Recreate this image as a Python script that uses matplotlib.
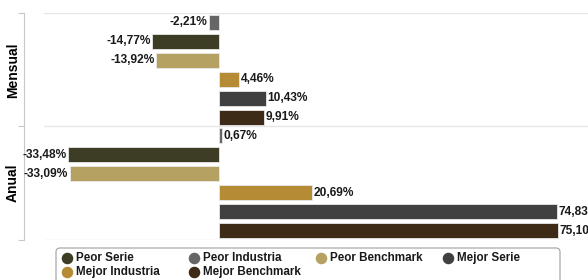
import matplotlib
matplotlib.use("Agg")
import matplotlib.pyplot as plt
from matplotlib.lines import Line2D
from matplotlib.patches import FancyBboxPatch

plt.rcParams['font.family'] = ['Liberation Sans', 'DejaVu Sans']

categories = ["Mensual", "Anual"]
# bar order within each group (top to bottom)
series = ["Peor Industria", "Peor Serie", "Peor Benchmark",
          "Mejor Industria", "Mejor Serie", "Mejor Benchmark"]
mensual = [-2.21, -14.77, -13.92, 4.46, 10.43, 9.91]
anual = [0.67, -33.48, -33.09, 20.69, 74.83, 75.10]
colors = {
    "Peor Serie": "#3d3d26",
    "Peor Industria": "#666666",
    "Peor Benchmark": "#b5a263",
    "Mejor Serie": "#404040",
    "Mejor Industria": "#b58b35",
    "Mejor Benchmark": "#3d2b17",
}
legend_rows = [["Peor Serie", "Peor Industria", "Peor Benchmark", "Mejor Serie"],
               ["Mejor Industria", "Mejor Benchmark"]]

W, H = 588, 280
fig = plt.figure(figsize=(W / 100, H / 100), dpi=100)
ax = fig.add_axes([44 / W, 40 / H, 544 / W, 227 / H])

n = len(series)
for gi, vals in enumerate([mensual, anual]):
    for si, (name, v) in enumerate(zip(series, vals)):
        y = gi * n + si + 0.5
        ax.barh(y, v, height=0.79, color=colors[name], edgecolor="#e8e8e8",
                linewidth=0.6, zorder=3)
        lab = f"{v:.2f}".replace(".", ",") + "%"
        if v < 0:
            ax.text(v - 0.35, y, lab, ha="right", va="center",
                    fontsize=8.6, fontweight="bold", color="#1a1a1a", zorder=4)
        else:
            ax.text(v + 0.35, y, lab, ha="left", va="center",
                    fontsize=8.6, fontweight="bold", color="#1a1a1a", zorder=4)

ax.set_xlim(-38.8, 81.8)
ax.set_ylim(2 * n, 0)

for y in [0, n, 2 * n]:
    ax.axhline(y, color="#e6e6e6", linewidth=1, zorder=1)

ax.set_xticks([])
for s in ["top", "right", "bottom"]:
    ax.spines[s].set_visible(False)
ax.spines["left"].set_position(("outward", 14.4))
ax.spines["left"].set_color("#c8c8c8")
ax.set_yticks([0, n, 2 * n])
ax.set_yticklabels([])
ax.tick_params(axis="y", which="major", length=4.3, color="#c8c8c8")
ax.set_yticks([n / 2, n + n / 2], minor=True)
ax.set_yticklabels(categories, minor=True, rotation=90, va="center",
                   fontsize=10, fontweight="bold")
ax.tick_params(axis="y", which="minor", length=0, pad=3)

# legend box (custom layout matching the fixed-width columns)
box = FancyBboxPatch((56, -10), 504, 42, boxstyle="round,pad=0,rounding_size=4",
                     transform=None, facecolor="white", edgecolor="#aaaaaa",
                     linewidth=0.9, figure=fig)
fig.patches.append(box)
col_x = [67, 194, 321, 448]
row_y = [258, 272]
for ri, row in enumerate(legend_rows):
    for ci, name in enumerate(row):
        x = col_x[ci] / W
        yy = 1 - row_y[ri] / H
        fig.add_artist(Line2D([x], [yy], marker="o", markersize=7.3,
                              linestyle="none", markerfacecolor=colors[name],
                              markeredgecolor=colors[name],
                              transform=fig.transFigure))
        fig.text((col_x[ci] + 9) / W, yy, name, ha="left", va="center",
                 fontsize=8.4, fontweight="bold", color="#1a1a1a")

fig.savefig("out.png", dpi=100)
